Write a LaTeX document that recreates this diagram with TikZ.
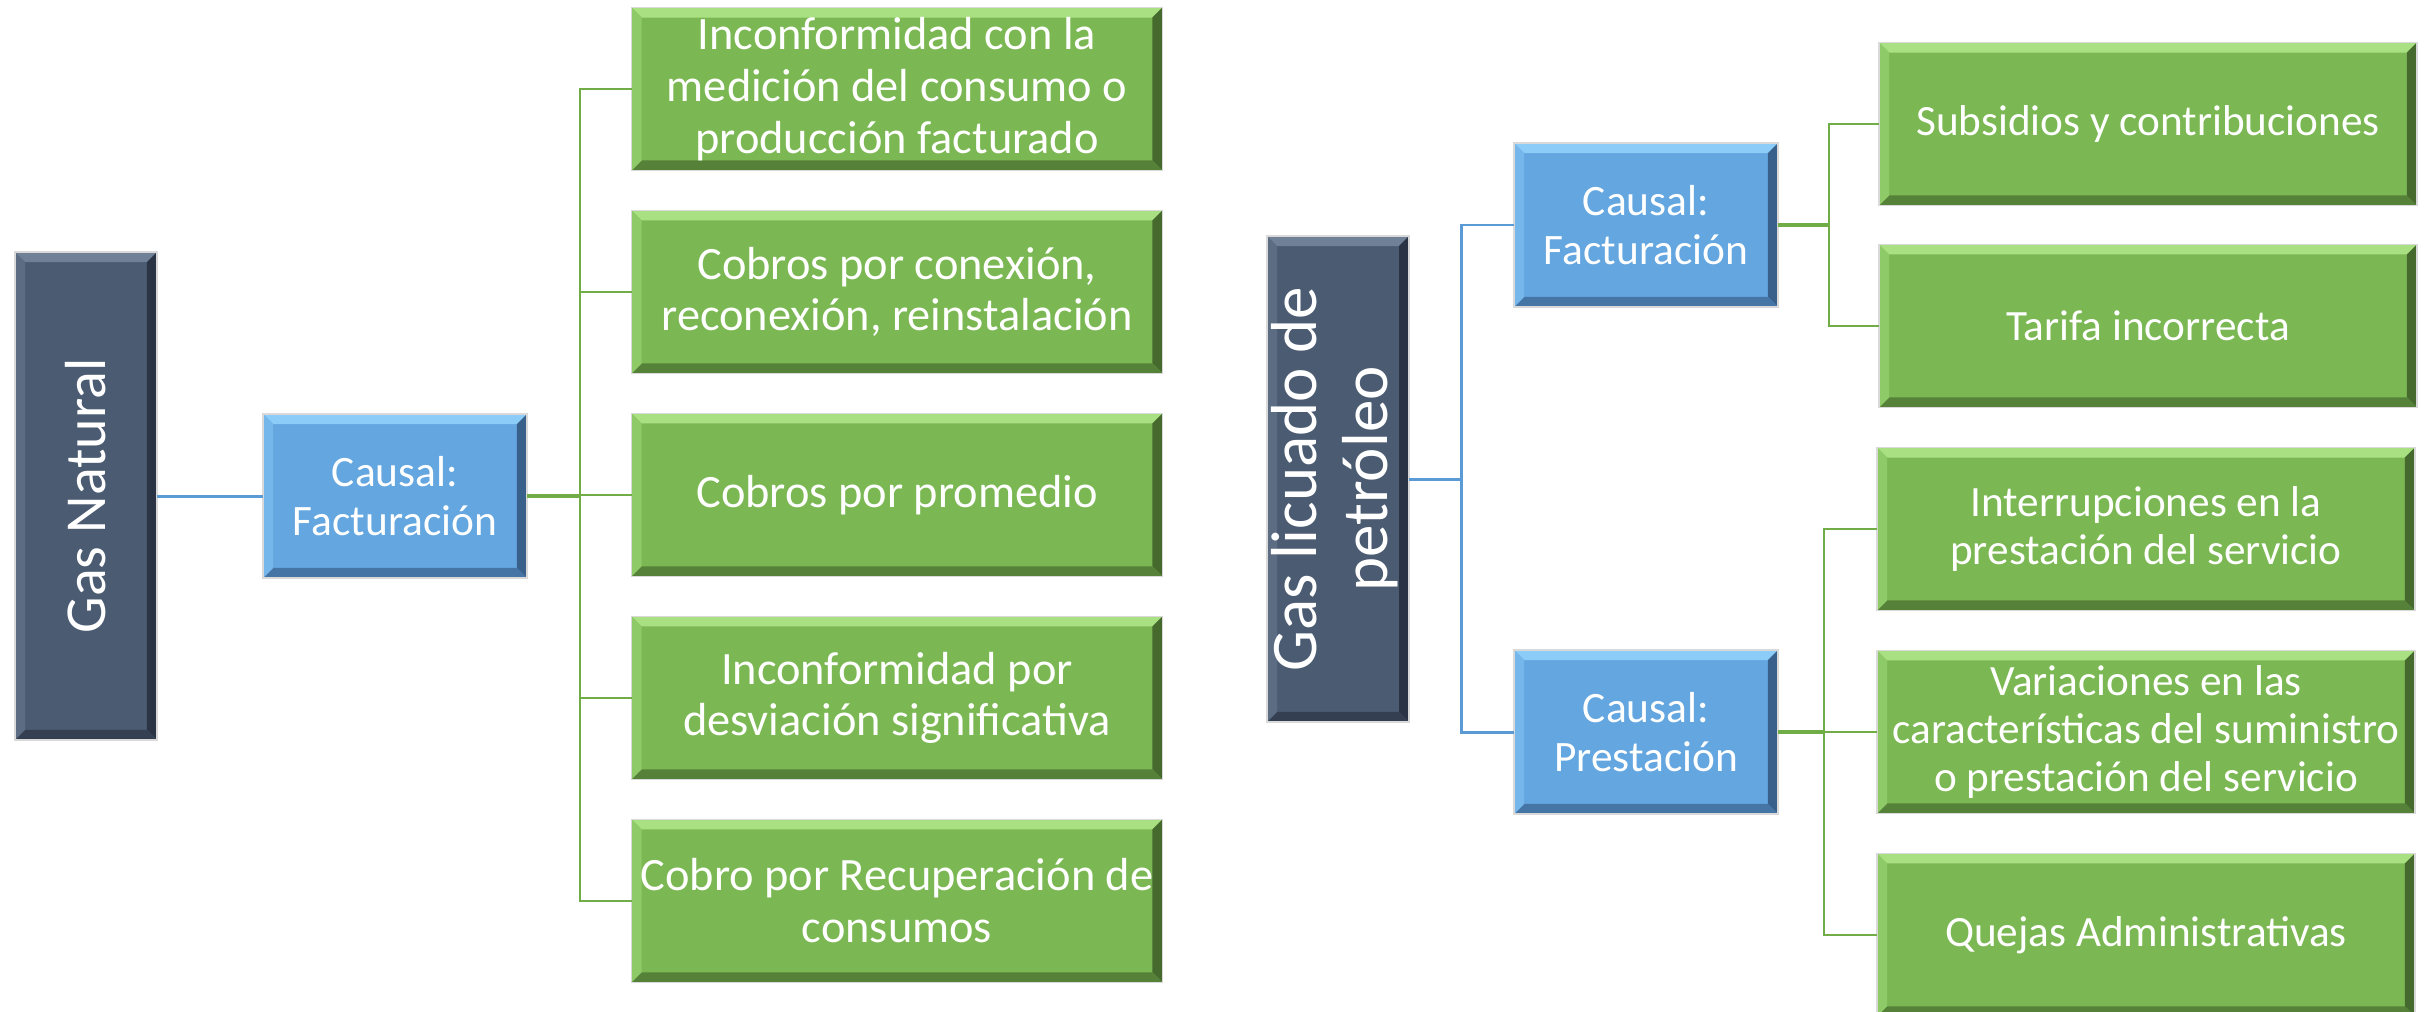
\documentclass[tikz,border=0pt]{standalone}
\usepackage{fontspec}
\setmainfont{Carlito}
\usetikzlibrary{positioning}
\usetikzlibrary{calc}

\definecolor{slate}{RGB}{75,91,114}
\definecolor{slateL}{RGB}{112,128,150}
\definecolor{slateD}{RGB}{42,52,68}
\definecolor{causa}{RGB}{100,166,224}
\definecolor{causaL}{RGB}{140,204,248}
\definecolor{causaD}{RGB}{56,96,138}
\definecolor{hoja}{RGB}{123,184,83}
\definecolor{hojaL}{RGB}{168,224,130}
\definecolor{hojaD}{RGB}{70,106,46}
\definecolor{blueline}{RGB}{91,155,213}
\definecolor{greenline}{RGB}{112,173,71}

\newcommand{\bv}{0.2cm}
\tikzset{
  bevel/.style n args={3}{fill=#1, path picture={
    \fill[#2] (path picture bounding box.north west) -- (path picture bounding box.north east)
      -- ([xshift=-\bv,yshift=-\bv]path picture bounding box.north east)
      -- ([xshift=\bv,yshift=-\bv]path picture bounding box.north west) -- cycle;
    \fill[#3] (path picture bounding box.north east) -- (path picture bounding box.south east)
      -- ([xshift=-\bv,yshift=\bv]path picture bounding box.south east)
      -- ([xshift=-\bv,yshift=-\bv]path picture bounding box.north east) -- cycle;
    \fill[#3!70!#1] (path picture bounding box.south east) -- (path picture bounding box.south west)
      -- ([xshift=\bv,yshift=\bv]path picture bounding box.south west)
      -- ([xshift=-\bv,yshift=\bv]path picture bounding box.south east) -- cycle;
    \fill[#2!45!#1] (path picture bounding box.south west) -- (path picture bounding box.north west)
      -- ([xshift=\bv,yshift=-\bv]path picture bounding box.north west)
      -- ([xshift=\bv,yshift=\bv]path picture bounding box.south west) -- cycle;
  }},
  base/.style={draw=black!15, line width=0.8pt, inner sep=0pt, outer sep=0pt, text=white, align=center},
  gasbox/.style={base, bevel={slate}{slateL}{slateD}, minimum width=2.84cm, minimum height=9.76cm,
    font=\fontsize{33}{38}\selectfont},
  causebox/.style={base, bevel={causa}{causaL}{causaD}, minimum width=5.28cm, minimum height=3.28cm,
    font=\fontsize{24.7}{28.3}\selectfont},
  leafbox/.style={base, bevel={hoja}{hojaL}{hojaD}, minimum width=10.62cm, minimum height=3.26cm,
    font=\fontsize{26.4}{29.4}\selectfont},
  rleafbox/.style={leafbox, minimum width=10.76cm, font=\fontsize{24.6}{27.6}\selectfont},
  bline/.style={draw=blueline, line width=1.7pt},
  gline/.style={draw=greenline, line width=1.1pt},
  gstub/.style={draw=greenline, line width=2.2pt}
}

\begin{document}
\begin{tikzpicture}[x=0.02cm, y=-0.02cm]
\useasboundingbox (0,0) rectangle (2431,1011);

% Gas Natural
\node (gn) [gasbox] at (86,496) {\rotatebox{90}{Gas Natural}};
\node (cfl) [causebox] at (395,496) {Causal:\\Facturación};
\node (l1) [leafbox] at (897,89) {Inconformidad con la\\medición del consumo o\\producción facturado};
\node (l2) [leafbox, below=0.8cm of l1] {Cobros por conexión,\\reconexión, reinstalación};
\node (l3) [leafbox, below=0.8cm of l2] {Cobros por promedio};
\node (l4) [leafbox, below=0.8cm of l3] {Inconformidad por\\desviación significativa};
\node (l5) [leafbox, below=0.8cm of l4] {Cobro por Recuperación de\\consumos};

% Gas licuado de petroleo
\node (glp) [gasbox, minimum height=9.72cm, font=\fontsize{37}{40}\selectfont] at (1338,479)
  {\rotatebox{90}{\begin{tabular}{@{}c@{}}Gas licuado de\\petróleo\end{tabular}}};
\node (cfr) [causebox] at (1646,225) {Causal:\\Facturación};
\node (cpr) [causebox] at (1646,732) {Causal:\\Prestación};
\node (r1) [rleafbox] at (2148,124) {Subsidios y contribuciones};
\node (r2) [rleafbox, below=0.78cm of r1] {Tarifa incorrecta};
\node (r3) [rleafbox] at (2146,529) {Interrupciones en la\\prestación del servicio};
\node (r4) [rleafbox, below=0.8cm of r3] {Variaciones en las\\características del suministro\\o prestación del servicio};
\node (r5) [rleafbox, below=0.8cm of r4] {Quejas Administrativas};

\coordinate (jl) at (580,496);
\coordinate (jb) at (1461,479);
\coordinate (jf) at (1829,225);
\coordinate (jp) at (1824,732);

\draw[bline] (gn) -- (cfl);
\draw[gstub] (cfl) -- (jl);
\foreach \n in {l1,l2,l3,l4,l5}
  \draw[gline] (jl) |- (\n.west);

\draw[bline] (glp) -- (jb);
\draw[bline] (jb) |- (cfr.west);
\draw[bline] (jb) |- (cpr.west);

\draw[gstub] (cfr) -- (jf);
\draw[gline] (jf) |- (r1.west);
\draw[gline] (jf) |- (r2.west);

\draw[gstub] (cpr) -- (jp);
\foreach \n in {r3,r4,r5}
  \draw[gline] (jp) |- (\n.west);
\end{tikzpicture}
\end{document}
